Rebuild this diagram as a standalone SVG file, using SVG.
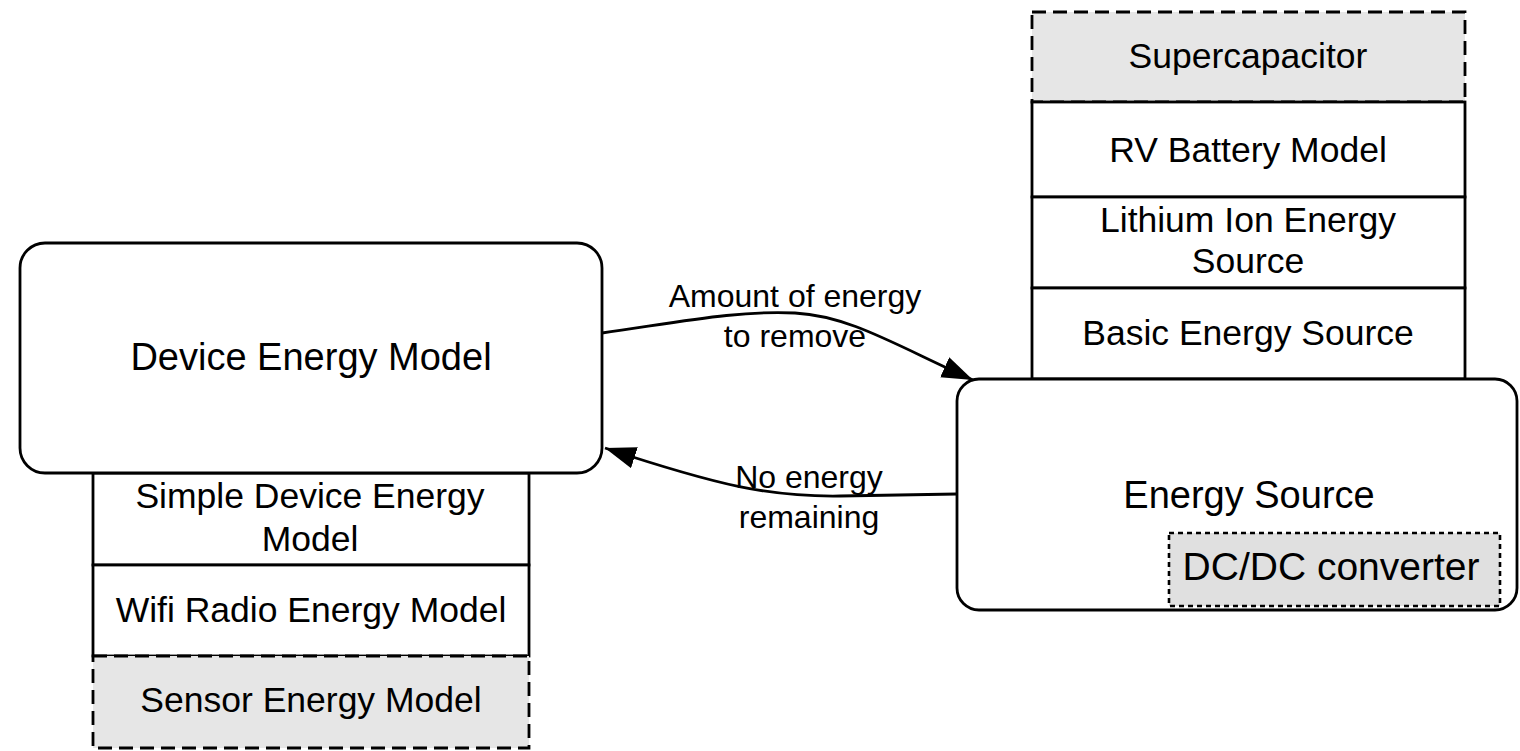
<svg xmlns="http://www.w3.org/2000/svg" width="1520" height="751" viewBox="0 0 1520 751">
  <style>
    text { font-family: "Liberation Sans", Arial, Helvetica, sans-serif; fill: #000; text-anchor: middle; }
    .main { font-size: 38px; }
    .sub { font-size: 35.5px; }
    .lbl { font-size: 32px; }
    .dc { font-size: 39px; }
    .box { fill: #fff; stroke: #000; stroke-width: 2.8; }
    .opt { fill: #e6e6e6; stroke: #000; stroke-width: 2.8; stroke-dasharray: 14 7; }
    .dot { fill: #e0e0e0; stroke: #000; stroke-width: 2.6; stroke-dasharray: 5 4; }
    .wire { fill: none; stroke: #000; stroke-width: 2.8; marker-end: url(#arrow); }
  </style>
  <defs>
    <marker id="arrow" markerUnits="userSpaceOnUse" markerWidth="34" markerHeight="24" refX="31" refY="11" orient="auto">
      <path d="M0,0 L31,11 L0,22 z" fill="#000"/>
    </marker>
  </defs>

  <!-- energy source implementations stacked above the energy source -->
  <g id="supercapacitor">
    <rect class="opt" x="1032" y="12" width="433" height="90"/>
    <text class="sub" x="1248" y="68">Supercapacitor</text>
  </g>
  <g id="rv-battery">
    <rect class="box" x="1032" y="102" width="433" height="95"/>
    <text class="sub" x="1248" y="162">RV Battery Model</text>
  </g>
  <g id="lithium-ion">
    <rect class="box" x="1032" y="197" width="433" height="91"/>
    <text class="sub" x="1248" y="232">Lithium Ion Energy</text>
    <text class="sub" x="1248" y="273">Source</text>
  </g>
  <g id="basic-source">
    <rect class="box" x="1032" y="288" width="433" height="91"/>
    <text class="sub" x="1248" y="345">Basic Energy Source</text>
  </g>

  <!-- device energy model implementations stacked below the device model -->
  <g id="simple-device">
    <rect class="box" x="93" y="473" width="436" height="92"/>
    <text class="sub" x="310" y="508">Simple Device Energy</text>
    <text class="sub" x="310" y="551">Model</text>
  </g>
  <g id="wifi-radio">
    <rect class="box" x="93" y="565" width="436" height="91"/>
    <text class="sub" x="311" y="622">Wifi Radio Energy Model</text>
  </g>
  <g id="sensor">
    <rect class="opt" x="93" y="656" width="436" height="92"/>
    <text class="sub" x="311" y="712">Sensor Energy Model</text>
  </g>

  <!-- main blocks -->
  <g id="device-energy-model">
    <rect class="box" x="20" y="243" width="582" height="230" rx="25" ry="25"/>
    <text class="main" x="311" y="370">Device Energy Model</text>
  </g>
  <g id="energy-source">
    <rect class="box" x="957" y="379" width="560" height="231" rx="22" ry="22"/>
    <text class="main" x="1249" y="508">Energy Source</text>
  </g>
  <g id="dcdc-converter">
    <rect class="dot" x="1169" y="533" width="331" height="73"/>
    <text class="dc" x="1331" y="580">DC/DC converter</text>
  </g>

  <!-- connectors -->
  <g id="connectors">
    <path class="wire" d="M602,333 C680,322 740,310 795,313 C850,316 895,345 973,380"/>
    <path class="wire" d="M957,494 L840,496 C770,497 720,486 605,448"/>
    <text class="lbl" x="795" y="307">Amount of energy</text>
    <text class="lbl" x="795" y="347">to remove</text>
    <text class="lbl" x="809" y="488">No energy</text>
    <text class="lbl" x="809" y="528">remaining</text>
  </g>
</svg>
